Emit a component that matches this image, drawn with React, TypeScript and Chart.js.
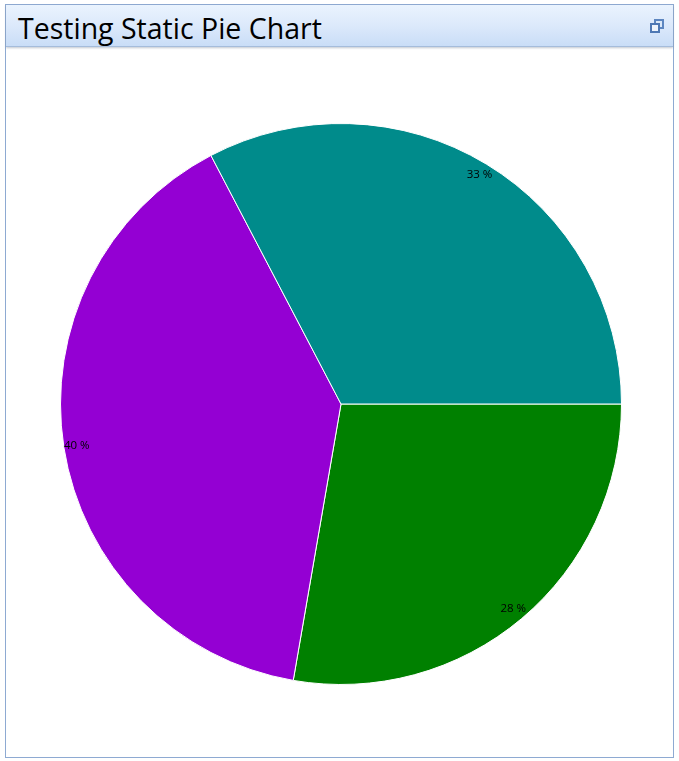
import React, { useEffect, useRef } from "react";
import { Chart, registerables } from "chart.js";

Chart.register(...registerables);

const categories = ["Green", "Purple", "Teal"];
const seriesValues = [28, 40, 33];
const sliceColors = ["#008000", "#9400D3", "#008B8B"];

const percentLabels = {
  id: "percentLabels",
  afterDatasetsDraw(chart: any) {
    const { ctx } = chart;
    const meta = chart.getDatasetMeta(0);
    const data = chart.data.datasets[0].data as number[];
    const total = data.reduce((a, b) => a + b, 0);
    ctx.save();
    ctx.font = "11.5px 'Open Sans', 'DejaVu Sans', sans-serif";
    ctx.fillStyle = "#000000";
    ctx.textAlign = "center";
    ctx.textBaseline = "middle";
    meta.data.forEach((arc: any, i: number) => {
      const p = arc.getProps(["x", "y", "startAngle", "endAngle", "outerRadius"], true);
      const mid = (p.startAngle + p.endAngle) / 2;
      const r = p.outerRadius - 13;
      const pct = Math.round((data[i] / total) * 100);
      ctx.fillText(pct + " %", p.x + Math.cos(mid) * r, p.y + Math.sin(mid) * r);
    });
    ctx.restore();
  },
};

function RestoreIcon() {
  return (
    <div style={{ position: "absolute", left: 644, top: 14, width: 14, height: 14 }}>
      <div
        style={{
          position: "absolute",
          left: 4,
          top: 0,
          width: 6,
          height: 6,
          border: "2px solid #5d86c0",
          background: "#dbe8f8",
        }}
      />
      <div
        style={{
          position: "absolute",
          left: 0,
          top: 4,
          width: 6,
          height: 6,
          border: "2px solid #4f78b4",
          background: "#eef4fc",
        }}
      />
    </div>
  );
}

export default function App() {
  const canvasRef = useRef<HTMLCanvasElement | null>(null);

  useEffect(() => {
    if (!canvasRef.current) return;
    const chart = new Chart(canvasRef.current, {
      type: "pie",
      data: {
        labels: categories,
        datasets: [
          {
            data: seriesValues,
            backgroundColor: sliceColors,
            borderColor: "#ffffff",
            borderWidth: 1,
          },
        ],
      },
      options: {
        animation: false,
        responsive: false,
        rotation: 90,
        layout: { padding: 0 },
        plugins: {
          legend: { display: false },
          tooltip: { enabled: false },
        },
      },
      plugins: [percentLabels],
    });
    return () => chart.destroy();
  }, []);

  return (
    <div
      style={{
        position: "absolute",
        left: 0,
        top: 0,
        width: 679,
        height: 761,
        background: "#ffffff",
      }}
    >
      <div
        style={{
          position: "absolute",
          left: 5,
          top: 4,
          width: 667,
          height: 752,
          border: "1px solid #8eaad2",
          background: "#ffffff",
        }}
      >
        <div
          style={{
            position: "absolute",
            left: 0,
            top: 0,
            width: 667,
            height: 41,
            background: "linear-gradient(to bottom, #eaf3fe 0%, #dce9fb 50%, #c9ddf7 100%)",
            borderBottom: "1px solid #a5bcdb",
            boxShadow: "0 1px 2px rgba(120,130,150,0.45)",
          }}
        >
          <div
            style={{
              position: "absolute",
              left: 12,
              top: 5,
              fontFamily: "'Open Sans', 'Noto Sans', sans-serif",
              fontSize: 28.5,
              lineHeight: "36px",
              color: "#000000",
              whiteSpace: "nowrap",
            }}
          >
            Testing Static Pie Chart
          </div>
          <RestoreIcon />
        </div>
      </div>
      <canvas
        ref={canvasRef}
        width={562}
        height={562}
        style={{ position: "absolute", left: 60, top: 123, width: 562, height: 562 }}
      />
    </div>
  );
}
